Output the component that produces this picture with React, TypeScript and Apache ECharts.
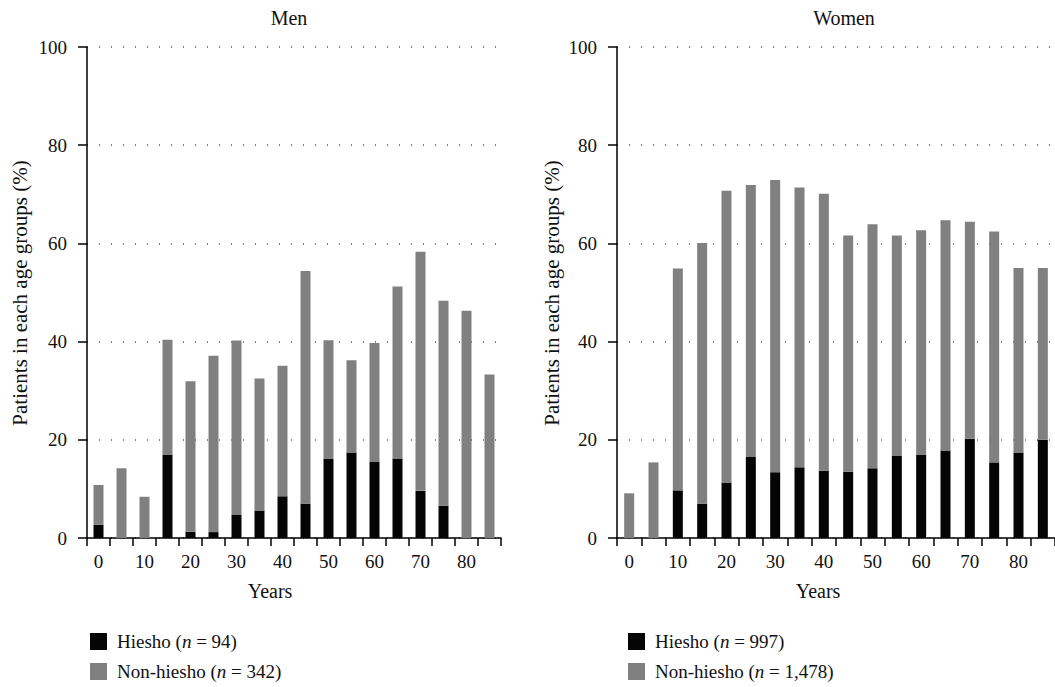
import React, { useEffect, useRef } from "react";
import * as echarts from "echarts";

const ages = ["0", "5", "10", "15", "20", "25", "30", "35", "40", "45", "50", "55", "60", "65", "70", "75", "80", "85"];
const yTicks = [0, 20, 40, 60, 80, 100];

const menHiesho = [2.7, 0, 0, 17.0, 1.3, 1.2, 4.7, 5.6, 8.5, 7.0, 16.1, 17.4, 15.5, 16.2, 9.6, 6.6, 0, 0];
const menNonHiesho = [8.1, 14.2, 8.4, 23.4, 30.6, 35.9, 35.5, 26.9, 26.6, 47.4, 24.2, 18.8, 24.2, 35.0, 48.7, 41.7, 46.3, 33.3];

const womenHiesho = [0, 0, 9.7, 7.0, 11.3, 16.5, 13.4, 14.4, 13.7, 13.5, 14.2, 16.7, 16.9, 17.8, 20.2, 15.4, 17.4, 20.0];
const womenNonHiesho = [9.1, 15.4, 45.2, 53.1, 59.4, 55.4, 59.5, 57.0, 56.4, 48.1, 49.7, 44.9, 45.8, 46.9, 44.2, 47.0, 37.6, 35.0];

const panelTitles = ["Men", "Women"];
const yAxisTitle = "Patients in each age groups (%)";
const xAxisTitle = "Years";
const legendLabels: Record<string, string> = {
  "Hiesho M": "Hiesho ({i|n} = 94)",
  "Non-hiesho M": "Non-hiesho ({i|n} = 342)",
  "Hiesho W": "Hiesho ({i|n} = 997)",
  "Non-hiesho W": "Non-hiesho ({i|n} = 1,478)",
};

const FONT = "Liberation Serif";
const BLACK = "#050505";
const GRAY = "#808080";

export default function App() {
  const ref = useRef<HTMLDivElement>(null);

  useEffect(() => {
    if (!ref.current) return;
    const chart = echarts.init(ref.current, undefined, { renderer: "svg" });

    const grids = [
      { left: 87, top: 47, width: 414, bottom: 149 },
      { left: 617, top: 47, width: 444, bottom: 149 },
    ];

    const xAxis = grids.map((_, i) => ({
      type: "category" as const,
      gridIndex: i,
      data: ages,
      boundaryGap: true,
      axisLine: { lineStyle: { color: "#000", width: 1.5 } },
      axisTick: { show: true, length: 8, interval: 0, lineStyle: { color: "#000", width: 1.5 } },
      axisLabel: { interval: 1, margin: 14, color: "#111", fontFamily: FONT, fontSize: 19 },
      splitLine: { show: false },
    }));

    const yAxis = grids.map((_, i) => ({
      type: "value" as const,
      gridIndex: i,
      min: yTicks[0],
      max: yTicks[yTicks.length - 1],
      interval: 20,
      axisLine: { show: true, lineStyle: { color: "#000", width: 1.5 } },
      axisTick: { show: true, length: 9, lineStyle: { color: "#000", width: 1.5 } },
      axisLabel: { margin: 20, color: "#111", fontFamily: FONT, fontSize: 19 },
      splitLine: { show: true, lineStyle: { color: "#555", width: 1.5, type: [1, 11] } },
    }));

    const mk = (name: string, data: number[], idx: number, color: string, stack: string) => ({
      name,
      type: "bar" as const,
      xAxisIndex: idx,
      yAxisIndex: idx,
      stack,
      data,
      barWidth: 10,
      itemStyle: { color },
    });

    const series = [
      mk("Hiesho M", menHiesho, 0, BLACK, "m"),
      mk("Non-hiesho M", menNonHiesho, 0, GRAY, "m"),
      mk("Hiesho W", womenHiesho, 1, BLACK, "w"),
      mk("Non-hiesho W", womenNonHiesho, 1, GRAY, "w"),
    ];

    const legendBase = {
      orient: "vertical" as const,
      icon: "rect",
      itemWidth: 17,
      itemHeight: 17,
      itemGap: 11,
      top: 632,
      padding: 0,
      height: 200,
      selectedMode: false,
      formatter: (n: string) => legendLabels[n] || n,
      textStyle: {
        fontFamily: FONT,
        fontSize: 19,
        color: "#111",
        padding: [0, 0, 0, 5],
        rich: { i: { fontFamily: FONT, fontSize: 19, fontStyle: "italic", color: "#111" } },
      },
    };

    const txt = (text: string, x: number, y: number, size: number, rotation = 0) => ({
      type: "text" as const,
      x,
      y,
      rotation,
      style: {
        text,
        fill: "#111",
        font: `${size}px ${FONT}`,
        align: "center",
        verticalAlign: "middle",
      },
    });

    chart.setOption({
      animation: false,
      backgroundColor: "#fff",
      textStyle: { fontFamily: FONT },
      grid: grids,
      xAxis,
      yAxis,
      series,
      legend: [
        { ...legendBase, left: 90, data: ["Hiesho M", "Non-hiesho M"] },
        { ...legendBase, left: 628, data: ["Hiesho W", "Non-hiesho W"] },
      ],
      graphic: [
        txt(panelTitles[0], 289, 18, 20),
        txt(panelTitles[1], 844, 18, 20),
        txt(xAxisTitle, 270, 591, 20),
        txt(xAxisTitle, 818, 591, 20),
        txt(yAxisTitle, 20, 293, 21, Math.PI / 2),
        txt(yAxisTitle, 552, 293, 21, Math.PI / 2),
      ],
    });

    return () => chart.dispose();
  }, []);

  return (
    <div
      ref={ref}
      style={{ position: "absolute", left: 0, top: 0, width: 1055, height: 687 }}
    />
  );
}
